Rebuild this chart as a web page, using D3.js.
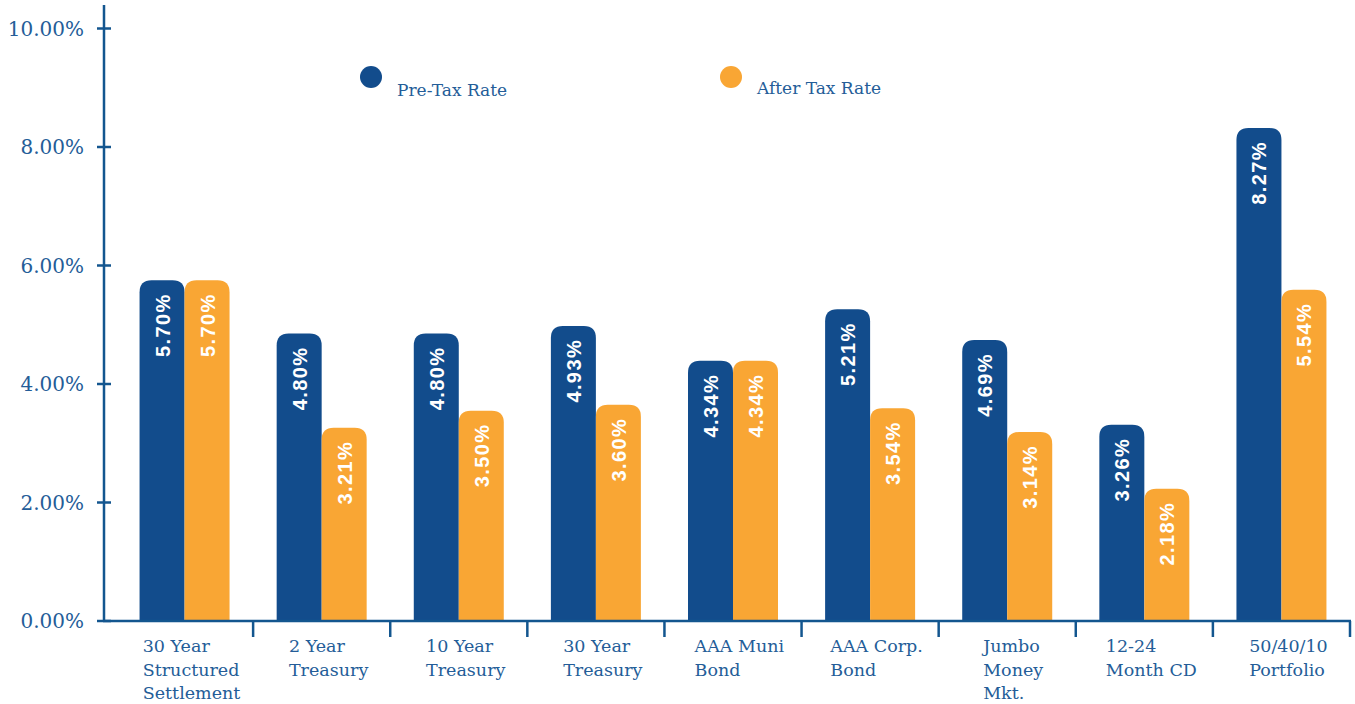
<!DOCTYPE html>
<html lang="en">
<head>
    <meta charset="UTF-8">
    <title>Pre-Tax vs After Tax Rate</title>
    <script src="https://d3js.org/d3.v7.min.js"></script>
</head>
<body style="margin:0;background:#fff;">

<style>
    svg { display: block; }
    .tick-label, .cat-label, .legend-label {
        font-family: "DejaVu Serif", serif;
        fill: #245d98;
    }
    .bar-label {
        font-family: "Liberation Sans", Arial, sans-serif;
        font-weight: bold;
        fill: #fff;
    }
</style>

<div id="chart"></div>

<script>
    // data
    var categories = [
        ["30 Year", "Structured", "Settlement"],
        ["2 Year", "Treasury"],
        ["10 Year", "Treasury"],
        ["30 Year", "Treasury"],
        ["AAA Muni", "Bond"],
        ["AAA Corp.", "Bond"],
        ["Jumbo", "Money", "Mkt."],
        ["12-24", "Month CD"],
        ["50/40/10", "Portfolio"]
    ];
    var preTax   = [5.70, 4.80, 4.80, 4.93, 4.34, 5.21, 4.69, 3.26, 8.27];
    var afterTax = [5.70, 3.21, 3.50, 3.60, 4.34, 3.54, 3.14, 2.18, 5.54];
    var seriesNames = ["Pre-Tax Rate", "After Tax Rate"];
    var yTicks = [0, 2, 4, 6, 8, 10];

    var colors = ["#124c8c", "#f9a634"];
    var axisColor = "#13568f";

    var width = 1355, height = 704;
    var svg = d3.select("#chart").append("svg")
        .attr("width", width)
        .attr("height", height);

    var y = d3.scaleLinear().domain([0, 10]).range([621, 28.5]);

    var x0 = d3.scaleBand()
        .domain(d3.range(categories.length))
        .range([116, 1350]);

    var pairW = 90;
    var x1 = d3.scaleBand().domain([0, 1]).range([0, pairW]);

    // y axis
    var yAxis = svg.append("g");
    yAxis.append("line")
        .attr("x1", 104).attr("x2", 104)
        .attr("y1", 5).attr("y2", y(0))
        .attr("stroke", axisColor).attr("stroke-width", 2.5);
    yTicks.forEach(function(t) {
        yAxis.append("line")
            .attr("x1", 97).attr("x2", 111)
            .attr("y1", y(t)).attr("y2", y(t))
            .attr("stroke", axisColor).attr("stroke-width", 2.5);
        yAxis.append("text")
            .attr("class", "tick-label")
            .attr("x", 84).attr("y", y(t) + 7)
            .attr("text-anchor", "end")
            .style("font-size", "20px")
            .text(d3.format(".2f")(t) + "%");
    });

    // bars
    var data = categories.map(function(c, i) { return [preTax[i], afterTax[i]]; });
    var r = 12;

    function topRounded(x, yTop, w, yBot) {
        var rr = Math.min(r, (yBot - yTop));
        return "M" + x + "," + yBot +
            "V" + (yTop + rr) +
            "Q" + x + "," + yTop + " " + (x + rr) + "," + yTop +
            "H" + (x + w - rr) +
            "Q" + (x + w) + "," + yTop + " " + (x + w) + "," + (yTop + rr) +
            "V" + yBot + "Z";
    }

    var groups = svg.selectAll("g.group")
        .data(data).enter()
        .append("g")
        .attr("class", "group")
        .attr("transform", function(d, i) {
            return "translate(" + (x0(i) + (x0.bandwidth() - pairW) / 2) + ",0)";
        });

    groups.selectAll("path")
        .data(function(d) { return d; })
        .enter().append("path")
        .attr("d", function(d, j) {
            return topRounded(x1(j), y(d) - 3, x1.bandwidth(), y(0));
        })
        .attr("fill", function(d, j) { return colors[j]; });

    groups.selectAll("text.bar-label")
        .data(function(d) { return d; })
        .enter().append("text")
        .attr("class", "bar-label")
        .attr("transform", function(d, j) {
            return "translate(" + (x1(j) + x1.bandwidth() / 2 + 7.5) + "," + (y(d) + 10) + ") rotate(-90)";
        })
        .attr("text-anchor", "end")
        .style("font-size", "20px")
        .style("letter-spacing", "1.4px")
        .text(function(d) { return d3.format(".2f")(d) + "%"; });

    // x axis
    var xAxis = svg.append("g");
    xAxis.append("line")
        .attr("x1", 103).attr("x2", 1351)
        .attr("y1", y(0)).attr("y2", y(0))
        .attr("stroke", axisColor).attr("stroke-width", 2.5);
    d3.range(1, categories.length + 1).forEach(function(i) {
        var bx = x0.range()[0] + i * x0.step();
        xAxis.append("line")
            .attr("x1", bx).attr("x2", bx)
            .attr("y1", y(0)).attr("y2", y(0) + 16)
            .attr("stroke", axisColor).attr("stroke-width", 2.5);
    });

    categories.forEach(function(lines, i) {
        var t = xAxis.append("text")
            .attr("class", "cat-label")
            .style("font-size", "17.5px");
        lines.forEach(function(l, k) {
            t.append("tspan").attr("x", 0).attr("y", 652 + k * 23.5).text(l);
        });
        var w = t.node().getBBox().width;
        var cx = x0(i) + x0.bandwidth() / 2;
        t.selectAll("tspan").attr("x", cx - w / 2 + 7);
    });

    // legend
    var legendX = [371, 731];
    seriesNames.forEach(function(name, j) {
        svg.append("circle")
            .attr("cx", legendX[j]).attr("cy", 77).attr("r", 11)
            .attr("fill", colors[j]);
        svg.append("text")
            .attr("class", "legend-label")
            .attr("x", legendX[j] + 26).attr("y", j === 0 ? 96 : 94)
            .style("font-size", "17px")
            .text(name);
    });
</script>

</body>
</html>
